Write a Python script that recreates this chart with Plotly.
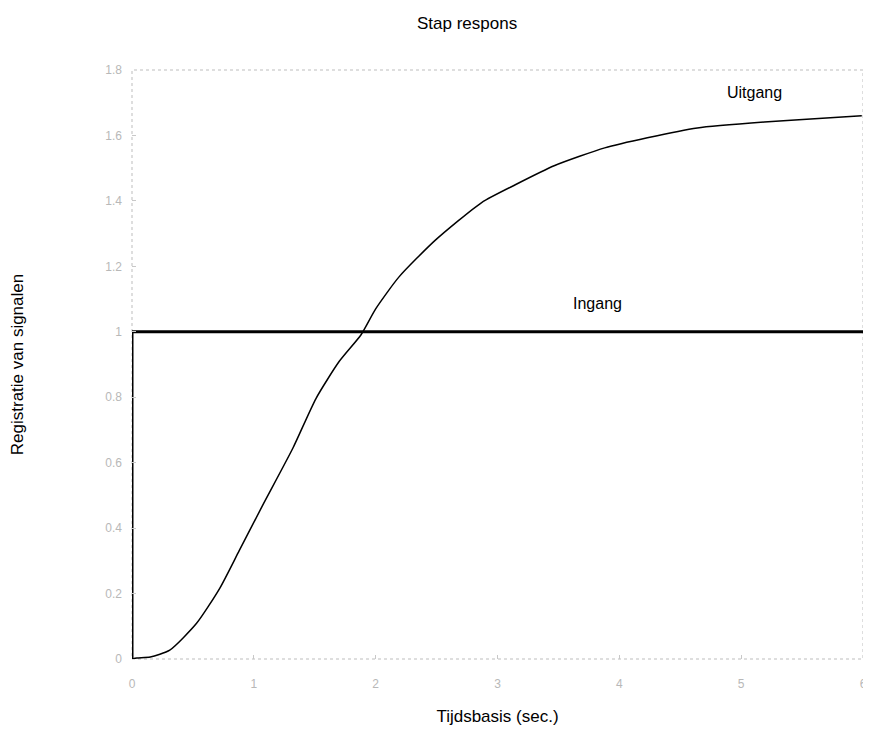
import plotly.graph_objects as go

# Data
output_t = [0.0, 0.04, 0.15, 0.31, 0.53, 0.72, 0.88, 1.07, 1.32, 1.51, 1.70, 1.88, 2.00,
            2.19, 2.49, 2.87, 3.15, 3.47, 3.88, 4.23, 4.64, 5.19, 5.57, 5.99]
output_y = [0.0, 0.003, 0.006, 0.027, 0.109, 0.216, 0.331, 0.468, 0.644, 0.796, 0.909, 0.991, 1.07,
            1.167, 1.28, 1.395, 1.45, 1.508, 1.562, 1.593, 1.623, 1.641, 1.65, 1.66]
input_t = [0, 0, 6]
input_y = [0, 1, 1]

x_ticks = [0, 1, 2, 3, 4, 5, 6]
x_tick_labels = ["0", "1", "2", "3", "4", "5", "6"]
y_ticks = [0, 0.2, 0.4, 0.6, 0.8, 1, 1.2, 1.4, 1.6, 1.8]
y_tick_labels = ["0", "0.2", "0.4", "0.6", "0.8", "1", "1.2", "1.4", "1.6", "1.8"]

font_family = "Liberation Sans, Arial, sans-serif"

fig = go.Figure()
fig.add_trace(go.Scatter(x=input_t, y=input_y, mode="lines",
                         line=dict(color="black", width=3), showlegend=False,
                         hoverinfo="skip"))
fig.add_trace(go.Scatter(x=output_t, y=output_y, mode="lines", line_shape="spline",
                         line=dict(color="black", width=1.5, smoothing=0.6), showlegend=False,
                         hoverinfo="skip"))

fig.add_annotation(x=5.11, y=1.73, text="Uitgang", showarrow=False,
                   xanchor="center", yanchor="middle",
                   font=dict(family=font_family, size=16, color="black"))
fig.add_annotation(x=3.82, y=1.085, text="Ingang", showarrow=False,
                   xanchor="center", yanchor="middle",
                   font=dict(family=font_family, size=16, color="black"))

axis_common = dict(showgrid=False, zeroline=False, showline=False, automargin=False,
                   ticks="inside", ticklen=4, tickcolor="#c8c8c8",
                   ticklabeloverflow="allow",
                   tickfont=dict(family=font_family, size=12, color="#b8b8b8"))

# the page body adds an 8px offset; size the figure so it fits the 871x736 window
fig.update_layout(
    width=863, height=728,
    margin=dict(l=124, r=8, t=62, b=77),
    paper_bgcolor="white", plot_bgcolor="white",
    title=dict(text="Stap respons", x=0.532, xanchor="center", y=0.979, yanchor="middle",
               font=dict(family=font_family, size=17, color="black")),
    xaxis=dict(range=[0, 6], tickvals=x_ticks, ticktext=x_tick_labels,
               ticklabelstandoff=16,
               title=dict(text="Tijdsbasis (sec.)", standoff=20,
                          font=dict(family=font_family, size=17, color="black")),
               **axis_common),
    yaxis=dict(range=[0, 1.8], tickvals=y_ticks, ticktext=y_tick_labels,
               ticklabelstandoff=9,
               title=dict(text="Registratie van signalen", standoff=95,
                          font=dict(family=font_family, size=17, color="black")),
               **axis_common),
    shapes=[
        dict(type="rect", xref="paper", yref="paper", x0=0, y0=0, x1=1, y1=1,
             line=dict(color="#bdbdbd", width=1, dash="dot"), layer="below"),
    ],
)

fig.write_html("out.html")
